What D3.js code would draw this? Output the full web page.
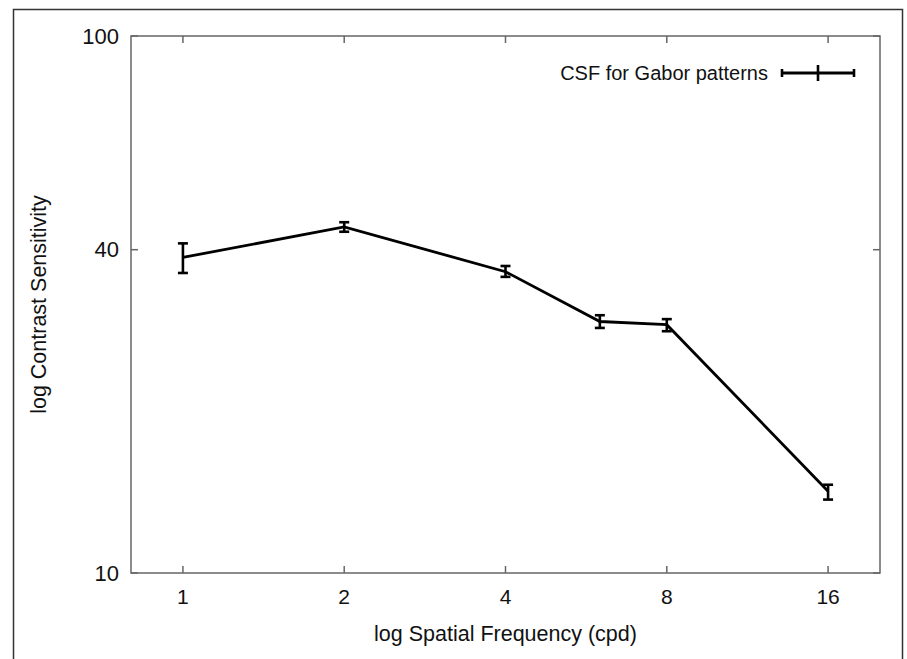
<!DOCTYPE html>
<html>
<head>
<meta charset="utf-8">
<script src="https://cdn.jsdelivr.net/npm/d3@7"></script>
<style>
  body { margin: 0; background: #fff; }
  svg text { font-family: "Liberation Sans", Arial, sans-serif; fill: #111; }
</style>
</head>
<body>
<div id="chart"></div>
<script>
// CSF for Gabor patterns
const freqs = [1, 2, 4, 6, 8, 16];
const sensitivity = [38.7, 44.1, 36.4, 29.4, 29.0, 14.2];
const errLow = [36.2, 43.2, 35.6, 28.6, 28.2, 13.7];
const errHigh = [41.1, 45.0, 37.3, 30.2, 29.7, 14.6];
const xTicks = [1, 2, 4, 8, 16];
const yTicks = [10, 40, 100];
const seriesName = 'CSF for Gabor patterns';

const width = 907, height = 659;
const margin = { top: 36, right: 27, bottom: 86, left: 131 };

const svg = d3.select('#chart')
    .append('svg')
    .attr('width', width)
    .attr('height', height);

// outer frame
svg.append('rect')
    .attr('x', 13.5)
    .attr('y', 9.5)
    .attr('width', 889)
    .attr('height', 670)
    .attr('fill', 'none')
    .attr('stroke', '#333')
    .attr('stroke-width', 1.5);

const xScale = d3.scaleLog().base(2)
    .domain([0.8, 20])
    .range([margin.left, width - margin.right]);

const yScale = d3.scaleLog()
    .domain([10, 100])
    .range([height - margin.bottom, margin.top]);

const x0 = margin.left, x1 = width - margin.right;
const y0 = height - margin.bottom, y1 = margin.top;

const g = svg.append('g');

// plot box
g.append('rect')
    .attr('x', x0)
    .attr('y', y1)
    .attr('width', x1 - x0)
    .attr('height', y0 - y1)
    .attr('fill', 'none')
    .attr('stroke', '#666')
    .attr('stroke-width', 1.5);

const tickLen = 7;

// x ticks, bottom and mirrored at top
xTicks.forEach(t => {
    const x = xScale(t);
    g.append('line').attr('x1', x).attr('x2', x).attr('y1', y0).attr('y2', y0 - tickLen)
        .attr('stroke', '#666').attr('stroke-width', 1.5);
    g.append('line').attr('x1', x).attr('x2', x).attr('y1', y1).attr('y2', y1 + tickLen)
        .attr('stroke', '#666').attr('stroke-width', 1.5);
    g.append('text')
        .attr('x', x)
        .attr('y', y0 + 31)
        .attr('text-anchor', 'middle')
        .attr('font-size', '21px')
        .text(t);
});

// y ticks, left and mirrored at right
yTicks.forEach(t => {
    const y = yScale(t);
    g.append('line').attr('x1', x0).attr('x2', x0 + tickLen).attr('y1', y).attr('y2', y)
        .attr('stroke', '#666').attr('stroke-width', 1.5);
    g.append('line').attr('x1', x1).attr('x2', x1 - tickLen).attr('y1', y).attr('y2', y)
        .attr('stroke', '#666').attr('stroke-width', 1.5);
    g.append('text')
        .attr('x', x0 - 12)
        .attr('y', y)
        .attr('dy', '0.35em')
        .attr('text-anchor', 'end')
        .attr('font-size', '22px')
        .text(t);
});

// axis titles
g.append('text')
    .attr('x', (x0 + x1) / 2)
    .attr('y', 641)
    .attr('text-anchor', 'middle')
    .attr('font-size', '21.5px')
    .text('log Spatial Frequency (cpd)');

g.append('text')
    .attr('transform', `translate(46, ${(y0 + y1) / 2}) rotate(-90)`)
    .attr('text-anchor', 'middle')
    .attr('font-size', '21.5px')
    .text('log Contrast Sensitivity');

// data line
const data = freqs.map((f, i) => ({ f, v: sensitivity[i], lo: errLow[i], hi: errHigh[i] }));

const line = d3.line()
    .x(d => xScale(d.f))
    .y(d => yScale(d.v));

g.append('path')
    .datum(data)
    .attr('d', line)
    .attr('fill', 'none')
    .attr('stroke', '#000')
    .attr('stroke-width', 2.8);

// error bars
const cap = 5;
const bars = g.selectAll('.err')
    .data(data)
    .enter()
    .append('g')
    .attr('class', 'err');

bars.append('line')
    .attr('x1', d => xScale(d.f)).attr('x2', d => xScale(d.f))
    .attr('y1', d => yScale(d.lo)).attr('y2', d => yScale(d.hi))
    .attr('stroke', '#000').attr('stroke-width', 2.6);
bars.append('line')
    .attr('x1', d => xScale(d.f) - cap).attr('x2', d => xScale(d.f) + cap)
    .attr('y1', d => yScale(d.lo)).attr('y2', d => yScale(d.lo))
    .attr('stroke', '#000').attr('stroke-width', 2.6);
bars.append('line')
    .attr('x1', d => xScale(d.f) - cap).attr('x2', d => xScale(d.f) + cap)
    .attr('y1', d => yScale(d.hi)).attr('y2', d => yScale(d.hi))
    .attr('stroke', '#000').attr('stroke-width', 2.6);

// legend
const ly = 73;
const lx0 = 782, lx1 = 854;
g.append('text')
    .attr('x', 768)
    .attr('y', ly)
    .attr('dy', '0.35em')
    .attr('text-anchor', 'end')
    .attr('font-size', '20px')
    .text(seriesName);
g.append('line').attr('x1', lx0).attr('x2', lx1).attr('y1', ly).attr('y2', ly)
    .attr('stroke', '#000').attr('stroke-width', 2.8);
[lx0, lx1].forEach(x => {
    g.append('line').attr('x1', x).attr('x2', x).attr('y1', ly - 4).attr('y2', ly + 4)
        .attr('stroke', '#000').attr('stroke-width', 2.6);
});
g.append('line').attr('x1', (lx0 + lx1) / 2).attr('x2', (lx0 + lx1) / 2)
    .attr('y1', ly - 8).attr('y2', ly + 8)
    .attr('stroke', '#000').attr('stroke-width', 2.6);
</script>
</body>
</html>
